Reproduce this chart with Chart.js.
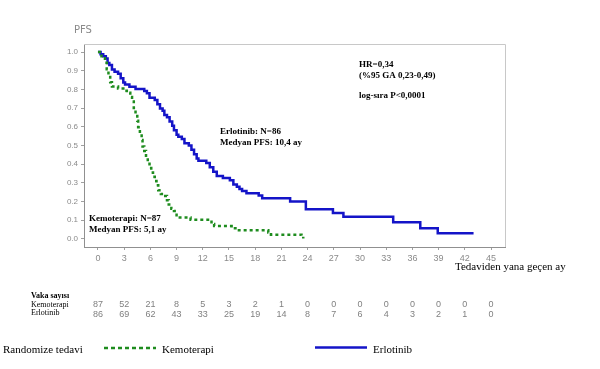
<!DOCTYPE html>
<html>
<head>
<meta charset="utf-8">
<script src="https://cdn.jsdelivr.net/npm/chart.js@4"></script>
<style>
html,body{margin:0;padding:0;background:#fff;}
#wrap{position:relative;width:600px;height:369px;}
canvas{display:block;}
</style>
</head>
<body>
<div id="wrap"><canvas id="c" width="600" height="369"></canvas></div>
<script>
// ---- data ----
const erloTimes = [0,0.3,0.6,0.9,1.1,1.3,1.6,1.9,2.3,2.6,2.9,3.1,3.6,4.3,5.3,5.6,5.9,6.5,6.8,7.1,7.4,7.6,7.9,8.2,8.5,8.7,9.0,9.2,9.6,9.9,10.4,10.7,11.0,11.3,11.5,12.4,12.8,13.2,13.6,14.3,15.1,15.5,15.9,16.2,16.5,17.0,18.4,18.8,22.0,23.8,26.9,28.1,33.8,36.9,38.9,43.0];
const erloSurv  = [1.0,0.988,0.977,0.965,0.942,0.93,0.907,0.895,0.884,0.86,0.837,0.826,0.814,0.802,0.791,0.779,0.756,0.744,0.721,0.698,0.686,0.663,0.651,0.628,0.605,0.581,0.558,0.547,0.535,0.512,0.5,0.477,0.453,0.43,0.419,0.407,0.384,0.36,0.337,0.326,0.314,0.291,0.279,0.267,0.256,0.244,0.233,0.218,0.2,0.159,0.139,0.119,0.089,0.057,0.03,0.03];
const kemoTimes = [0,0.4,0.8,1.0,1.2,1.4,1.6,2.3,2.9,3.3,3.7,3.9,4.1,4.3,4.5,4.6,4.8,5.0,5.1,5.3,5.5,5.7,5.9,6.1,6.3,6.5,6.7,6.9,7.2,7.7,7.9,8.1,8.4,8.7,9.0,10.6,12.6,13.0,13.3,15.3,15.9,19.5,19.8,23.3,23.5];
const kemoSurv  = [1.0,0.977,0.943,0.908,0.874,0.839,0.816,0.805,0.793,0.782,0.759,0.736,0.701,0.667,0.632,0.598,0.563,0.529,0.494,0.471,0.437,0.41,0.379,0.356,0.333,0.31,0.287,0.26,0.241,0.23,0.207,0.184,0.161,0.149,0.115,0.103,0.092,0.08,0.069,0.057,0.046,0.034,0.023,0.017,0.003];
const xTicks = [0,3,6,9,12,15,18,21,24,27,30,33,36,39,42,45];
const yTicks = [0,0.1,0.2,0.3,0.4,0.5,0.6,0.7,0.8,0.9,1.0];
const riskKemo = [87,52,21,8,5,3,2,1,0,0,0,0,0,0,0,0];
const riskErlo = [86,69,62,43,33,25,19,14,8,7,6,4,3,2,1,0];

const toPts = (t, s) => t.map((v, i) => ({x: v, y: s[i]}));

const BLUE = '#1414c8';
const GREEN = '#1e8c1e';
const TICKFONT = "'Liberation Sans Narrow','Liberation Sans',Arial,sans-serif";
const SERIF = "'Liberation Serif','Times New Roman',serif";

const extras = {
  id: 'extras',
  afterDraw(chart) {
    const ctx = chart.ctx;
    const a = chart.chartArea;
    const xs = chart.scales.x;
    ctx.save();
    // frame top & right
    ctx.strokeStyle = '#c8c8c8';
    ctx.lineWidth = 1;
    ctx.beginPath();
    ctx.moveTo(a.left, a.top + 0.5);
    ctx.lineTo(a.right + 0.5, a.top + 0.5);
    ctx.lineTo(a.right + 0.5, a.bottom);
    ctx.stroke();

    // PFS label
    ctx.fillStyle = '#8a8a8a';
    ctx.font = "10px " + "'DejaVu Sans',sans-serif";
    ctx.textBaseline = 'middle';
    ctx.textAlign = 'left';
    ctx.fillText('PFS', 74, 30);

    // annotations
    ctx.fillStyle = '#000';
    ctx.font = "bold 9px " + SERIF;
    ctx.fillText('HR=0,34', 359, 65);
    ctx.fillText('(%95 GA 0,23-0,49)', 359, 76);
    ctx.fillText('log-sıra P<0,0001', 359, 96);
    ctx.fillText('Erlotinib: N=86', 220, 132);
    ctx.fillText('Medyan PFS: 10,4 ay', 220, 143);
    ctx.fillText('Kemoterapi: N=87', 89, 219);
    ctx.fillText('Medyan PFS: 5,1 ay', 89, 230);

    // x axis title
    ctx.font = "11px " + SERIF;
    ctx.fillText('Tedaviden yana geçen ay', 455, 267);

    // risk table
    ctx.font = "bold 8px " + SERIF;
    ctx.fillText('Vaka sayısı', 31, 296);
    ctx.font = "8px " + SERIF;
    ctx.fillText('Kemoterapi', 31, 305);
    ctx.fillText('Erlotinib', 31, 313);
    ctx.font = "9px " + TICKFONT;
    ctx.fillStyle = '#808080';
    ctx.textAlign = 'center';
    xTicks.forEach((t, i) => {
      const px = xs.getPixelForValue(t);
      ctx.fillText(String(riskKemo[i]), px, 305);
      ctx.fillText(String(riskErlo[i]), px, 315);
    });

    // legend
    ctx.textAlign = 'left';
    ctx.fillStyle = '#000';
    ctx.font = "11px " + SERIF;
    ctx.fillText('Randomize tedavi', 3, 350);
    ctx.fillText('Kemoterapi', 162, 350);
    ctx.fillText('Erlotinib', 373, 350);
    ctx.lineWidth = 2.5;
    ctx.strokeStyle = GREEN;
    ctx.setLineDash([4, 3]);
    ctx.beginPath(); ctx.moveTo(104, 348); ctx.lineTo(156, 348); ctx.stroke();
    ctx.setLineDash([]);
    ctx.strokeStyle = BLUE;
    ctx.beginPath(); ctx.moveTo(315, 347.5); ctx.lineTo(367, 347.5); ctx.stroke();
    ctx.restore();
  }
};

new Chart(document.getElementById('c'), {
  type: 'line',
  data: {
    datasets: [
      {
        label: 'Kemoterapi',
        data: toPts(kemoTimes, kemoSurv),
        stepped: 'before',
        borderColor: GREEN,
        borderWidth: 2.5,
        borderDash: [3, 3],
        pointRadius: 0,
        fill: false
      },
      {
        label: 'Erlotinib',
        data: toPts(erloTimes, erloSurv),
        stepped: 'before',
        borderColor: BLUE,
        borderWidth: 2.5,
        pointRadius: 0,
        fill: false
      }
    ]
  },
  options: {
    responsive: false,
    devicePixelRatio: 1,
    animation: false,
    layout: { padding: { left: 0, top: 44, right: 95, bottom: 102 } },
    plugins: { legend: { display: false }, tooltip: { enabled: false } },
    scales: {
      x: {
        type: 'linear',
        min: -1.6,
        max: 46.6,
        afterBuildTicks: s => { s.ticks = xTicks.map(v => ({value: v})); },
        afterFit: s => { s.height = 20; },
        grid: { drawOnChartArea: false, drawTicks: true, tickLength: 3, color: '#a0a0a0' },
        border: { display: true, color: '#909090', width: 1 },
        ticks: { color: '#8a8a8a', font: { size: 9, family: TICKFONT }, padding: 3, maxRotation: 0, autoSkip: false }
      },
      y: {
        type: 'linear',
        min: -0.043,
        max: 1.043,
        afterBuildTicks: s => { s.ticks = yTicks.map(v => ({value: v})); },
        afterFit: s => { s.width = 84; },
        grid: { drawOnChartArea: false, drawTicks: true, tickLength: 3, color: '#a0a0a0' },
        border: { display: true, color: '#909090', width: 1 },
        ticks: { color: '#8a8a8a', font: { size: 8, family: TICKFONT }, padding: 3, autoSkip: false,
                 callback: v => Number(v).toFixed(1) }
      }
    }
  },
  plugins: [extras]
});
</script>
</body>
</html>
